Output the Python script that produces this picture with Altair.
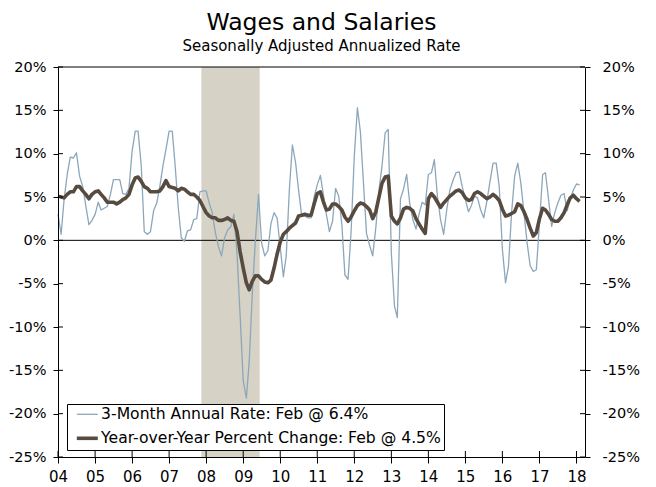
import altair as alt
import pandas as pd

# ---- data (monthly, Jan 2004 - Feb 2018) ----
start_month = "2004-01-01"
n_months = 170

three_month = [
    3.0, 0.7, 4.7, 7.6, 9.6, 9.5, 10.1, 7.4, 6.2, 4.0, 1.8, 2.3,
    3.0, 4.4, 3.5, 3.7, 3.9, 5.3, 7.0, 7.0, 7.0, 5.4, 5.3, 6.0,
    10.3, 12.6, 12.6, 8.6, 1.0, 0.7, 1.0, 3.4, 4.3, 6.2, 8.6, 10.5,
    12.6, 12.6, 8.7, 3.8, 0.3, -0.1, 1.1, 1.2, 2.4, 2.5, 5.6, 5.7,
    5.7, 4.3, 3.2, 0.9, -0.7, -1.8, 0.3, 1.2, 1.6, 3.0, -1.6, -8.6,
    -16.2, -18.2, -14.0, -6.0, 0.0, 5.3, -0.3, -1.8, -1.2, 1.9, 3.2, 2.6,
    -0.8, -4.2, -1.8, 5.9, 11.0, 9.0, 5.8, 2.8, 2.8, 2.6, 2.6, 5.0,
    6.4, 7.5, 5.4, 3.0, 1.0, 2.2, 6.0, 5.1, 1.8, -4.0, -4.5, 1.0,
    9.6, 15.3, 12.6, 6.6, 0.8, -0.6, -1.8, 1.5, 5.8, 8.6, 12.4, 12.8,
    -1.5, -7.6, -8.9, 4.8, 5.9, 7.6, 4.3, 2.4, 1.3, 3.0, 4.4, 4.1,
    7.6, 7.8, 9.3, 5.0, 2.4, 0.7, 3.5, 5.8, 6.9, 7.8, 7.9, 6.2,
    4.7, 3.3, 4.0, 5.1, 4.9, 3.5, 2.6, 4.5, 6.8, 8.9, 8.9, 6.2,
    -1.0, -4.9, -3.0, 3.2, 7.4, 8.9, 6.6, 3.2, -0.3, -2.9, -3.6, -3.4,
    2.0, 7.6, 7.8, 4.7, 1.6, 3.2, 4.3, 5.2, 5.4, 3.4, 4.8, 5.8,
    6.5, 6.4,
]

year_over_year = [
    5.1, 5.0, 4.9, 5.3, 5.6, 5.6, 6.2, 6.2, 5.7, 5.3, 4.8, 5.3,
    5.6, 5.7, 5.3, 4.9, 4.4, 4.4, 4.4, 4.2, 4.4, 4.7, 4.9, 5.3,
    6.4, 7.2, 7.3, 6.8, 6.2, 6.0, 5.6, 5.6, 5.6, 5.7, 6.2, 6.9,
    6.2, 6.1, 6.0, 5.7, 6.0, 5.9, 5.6, 5.3, 5.3, 5.0, 4.6, 3.9,
    3.2, 2.8, 2.6, 2.6, 2.3, 2.3, 2.4, 2.6, 2.3, 2.2, 1.0, -1.3,
    -3.2, -4.9, -5.7, -4.7, -4.1, -4.1, -4.5, -4.8, -4.9, -4.6, -3.2, -1.6,
    -0.2, 0.7, 1.0, 1.4, 1.7, 2.0, 2.8, 2.9, 3.0, 2.9, 2.9, 4.2,
    5.4, 5.6, 4.5, 3.5, 3.6, 4.2, 4.2, 3.9, 3.5, 2.7, 2.2, 2.7,
    3.4, 4.0, 4.3, 4.2, 3.9, 3.5, 2.5, 3.3, 5.0, 6.6, 7.3, 7.4,
    2.8, 2.2, 1.9, 2.6, 3.6, 3.8, 3.7, 3.4, 2.5, 1.9, 1.3, 0.8,
    4.8, 5.4, 5.0, 4.4, 3.8, 4.3, 4.7, 5.1, 5.4, 5.7, 5.8, 5.5,
    4.9, 4.6, 4.7, 5.4, 5.6, 5.4, 5.1, 4.8, 5.0, 5.3, 5.0, 4.6,
    3.6, 2.8, 2.9, 3.1, 3.3, 4.2, 4.0, 3.3, 2.4, 1.4, 0.5, 0.9,
    2.5, 3.7, 3.5, 3.0, 2.4, 2.2, 2.2, 2.6, 3.2, 4.1, 4.9, 5.2,
    4.8, 4.5,
]

series_names = [
    "3-Month Annual Rate: Feb @ 6.4%",
    "Year-over-Year Percent Change: Feb @ 4.5%",
]
series_colors = ["#8ca7bb", "#574b40"]
series_widths = [1.3, 3.6]

recession_start = ["2007-11-15"]
recession_end = ["2009-06-12"]

y_ticks = [-25, -20, -15, -10, -5, 0, 5, 10, 15, 20]
x_tick_years = list(range(2004, 2019))
x_domain = ["2004-01-01", "2018-03-26"]

# ---- build tables ----
dates = pd.date_range(start_month, periods=n_months, freq="MS")
df = pd.concat([
    pd.DataFrame({"date": dates, "value": three_month, "series": series_names[0]}),
    pd.DataFrame({"date": dates, "value": year_over_year, "series": series_names[1]}),
])
df["date"] = df["date"].dt.strftime("%Y-%m-%d")

rec_df = pd.DataFrame({"start": recession_start, "end": recession_end})
ytick_df = pd.DataFrame({"v": y_ticks})
xtick_df = pd.DataFrame({"d": [f"{y}-01-01" for y in x_tick_years]})


def ms(s):
    return int(pd.Timestamp(s).value // 10**6)


x_scale = alt.Scale(type="utc", domain=[ms(x_domain[0]), ms(x_domain[1])])
y_scale = alt.Scale(domain=[-25, 20], nice=False, zero=False)
x_vals = [ms(f"{y}-01-01") for y in x_tick_years]

W, H = 527, 390
FONT = "DejaVu Sans"

x_axis = alt.Axis(values=x_vals, format="%y", title=None, grid=False,
                  tickSize=6, labelPadding=6, labelFontSize=15, labelFont=FONT,
                  labelColor="#000", domainColor="#000", tickColor="#000",
                  labelFlush=False, labelOverlap=False, zindex=1)
y_axis_left = alt.Axis(values=y_ticks, labelExpr="datum.value + '%'", title=None,
                       grid=False, tickSize=5, labelPadding=7, labelFontSize=14.5,
                       labelFont=FONT, labelColor="#000", domainColor="#000",
                       tickColor="#000", orient="left", zindex=1)
y_axis_right = alt.Axis(values=y_ticks, labelExpr="datum.value + '%'", title=None,
                        grid=False, tickSize=5, labelPadding=12, labelFontSize=14.5,
                        labelFont=FONT, labelColor="#000", domainColor="#000",
                        tickColor="#000", orient="right", zindex=1)

legend = alt.Legend(title=None, orient="none", legendX=9, legendY=337,
                    symbolType="M-2,0H2", symbolSize=110,
                    labelFontSize=15.6, labelFont=FONT, labelColor="#000",
                    fillColor="white", strokeColor="#000",
                    padding=2.5, rowPadding=7, labelOffset=6,
                    symbolOffset=10, labelLimit=500)

band = alt.Chart(rec_df).mark_rect(color="#d6d2c6").encode(
    x=alt.X("start:T", scale=x_scale, axis=x_axis),
    x2="end:T",
    y=alt.value(0),
    y2=alt.value(H),
)

zero = alt.Chart(ytick_df).transform_filter("datum.v == 0").mark_rule(
    color="#000", strokeWidth=1
).encode(y=alt.Y("v:Q", scale=y_scale, axis=y_axis_left))

lines = alt.Chart(df).mark_line(strokeJoin="round", strokeCap="butt").encode(
    x=alt.X("date:T", scale=x_scale, axis=x_axis),
    y=alt.Y("value:Q", scale=y_scale, axis=y_axis_right),
    color=alt.Color("series:N", scale=alt.Scale(domain=series_names, range=series_colors),
                    legend=legend),
    strokeWidth=alt.StrokeWidth("series:N",
                                scale=alt.Scale(domain=series_names, range=series_widths),
                                legend=legend),
    order=alt.Order("series:N"),
)

left_in = alt.Chart(ytick_df).mark_rule(color="#000").encode(
    y=alt.Y("v:Q", scale=y_scale, axis=None), x=alt.value(0), x2=alt.value(5))
right_in = alt.Chart(ytick_df).mark_rule(color="#000").encode(
    y=alt.Y("v:Q", scale=y_scale, axis=None), x=alt.value(W - 5), x2=alt.value(W))
bottom_in = alt.Chart(xtick_df).mark_rule(color="#000").encode(
    x=alt.X("d:T", scale=x_scale, axis=x_axis), y=alt.value(H - 6), y2=alt.value(H))
top_line = alt.Chart(ytick_df).transform_filter("datum.v == 20").mark_rule(color="#000").encode(
    y=alt.Y("v:Q", scale=y_scale, axis=None), x=alt.value(0), x2=alt.value(W))

chart = alt.layer(band, zero, lines, left_in, right_in, bottom_in, top_line).resolve_axis(
    y="independent"
).properties(
    width=W, height=H,
    title=alt.TitleParams(
        "Wages and Salaries",
        subtitle="Seasonally Adjusted Annualized Rate",
        font=FONT, fontSize=23.5, fontWeight="normal", color="#000",
        subtitleFont=FONT, subtitleFontSize=15, subtitleColor="#000",
        subtitlePadding=5, anchor="middle", offset=5,
    ),
    autosize=alt.AutoSizeParams(type="none"),
    padding={"left": 50, "top": 59, "right": 63, "bottom": 27},
).configure_view(stroke=None)

chart.save("out.html", embed_options={"renderer": "svg", "actions": False})
